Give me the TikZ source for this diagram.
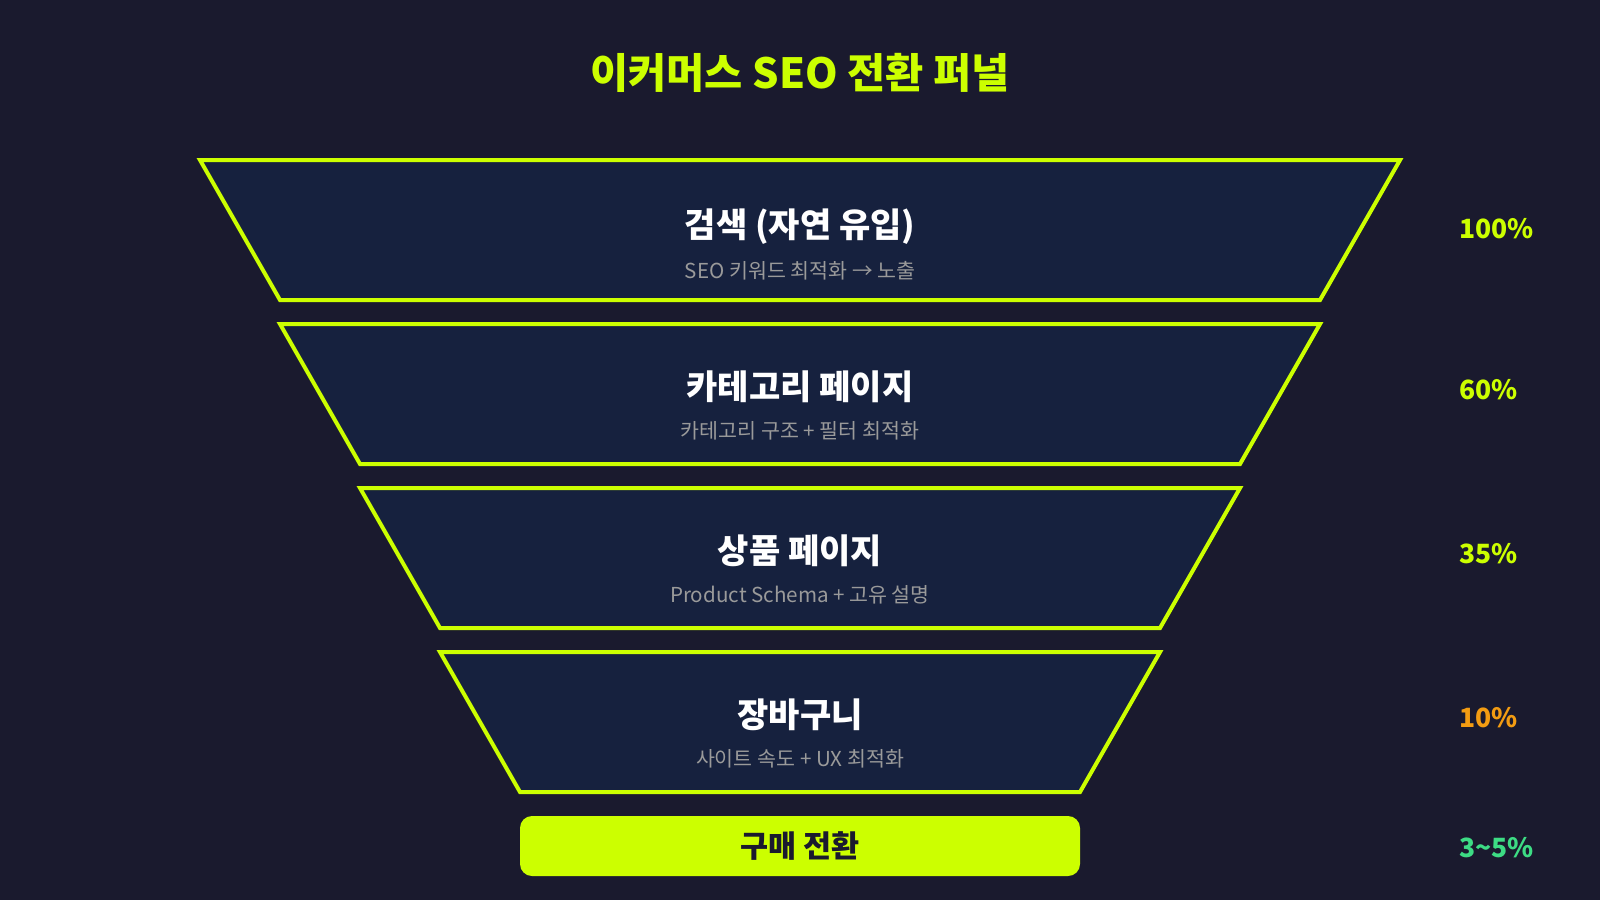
\documentclass[tikz,border=0pt]{standalone}
\usepackage{fontspec}
\setmainfont{Noto Sans CJK KR}
\definecolor{bg}{HTML}{1A1A2E}
\definecolor{stagefill}{HTML}{16213E}
\definecolor{lime}{HTML}{CCFF00}
\definecolor{subgray}{HTML}{9A9A9A}
\definecolor{orangepct}{HTML}{F39C12}
\definecolor{greenpct}{HTML}{3DDC84}
\tikzset{
  stage/.style={fill=stagefill, draw=lime, line width=4pt, line join=miter},
  stagetitle/.style={text=white, font=\fontsize{34}{40}\selectfont\bfseries, anchor=center, inner sep=0pt},
  stagesub/.style={text=subgray, font=\fontsize{20.6}{24}\selectfont, anchor=center, inner sep=0pt},
  pct/.style={font=\fontsize{26.5}{30}\selectfont\bfseries, anchor=west, inner sep=0pt},
}
\begin{document}
\begin{tikzpicture}[x=1pt,y=-1pt]
\fill[bg] (0,0) rectangle (1600,900);
\useasboundingbox (0,0) rectangle (1600,900);
\node[text=lime, font=\fontsize{41.5}{46}\selectfont\bfseries, inner sep=0pt] (title) at (800,73) {이커머스 SEO 전환 퍼널};
% stages
\draw[stage] (200,160) -- (1400,160) -- (1320,300) -- (280,300) -- cycle;
\draw[stage] (280,324) -- (1320,324) -- (1240,464) -- (360,464) -- cycle;
\draw[stage] (360,488) -- (1240,488) -- (1160,628) -- (440,628) -- cycle;
\draw[stage] (440,652) -- (1160,652) -- (1080,792) -- (520,792) -- cycle;
\node[stagetitle] (t1) at (800,227) {검색 (자연 유입)};
\node[stagesub] (s1) at (800,271) {SEO 키워드 최적화 → 노출};
\node[stagetitle] (t2) at (800,387) {카테고리 페이지};
\node[stagesub] (s2) at (800,431) {카테고리 구조 + 필터 최적화};
\node[stagetitle] (t3) at (800,551) {상품 페이지};
\node[stagesub] (s3) at (800,595) {Product Schema + 고유 설명};
\node[stagetitle] (t4) at (800,715) {장바구니};
\node[stagesub] (s4) at (800,759) {사이트 속도 + UX 최적화};
% final
\fill[lime, rounded corners=12pt] (520,816) rectangle (1080,876);
\node[text=bg, font=\fontsize{30.5}{34}\selectfont\bfseries, inner sep=0pt] (buy) at (800,846) {구매 전환};
% percentages
\node[pct, text=lime] (p1) at (1459,229) {100\%};
\node[pct, text=lime] (p2) at (1459,390) {60\%};
\node[pct, text=lime] (p3) at (1459,554) {35\%};
\node[pct, text=orangepct] (p4) at (1459,718) {10\%};
\node[pct, text=greenpct] (p5) at (1459,848) {3\textasciitilde5\%};
\end{tikzpicture}
\end{document}
